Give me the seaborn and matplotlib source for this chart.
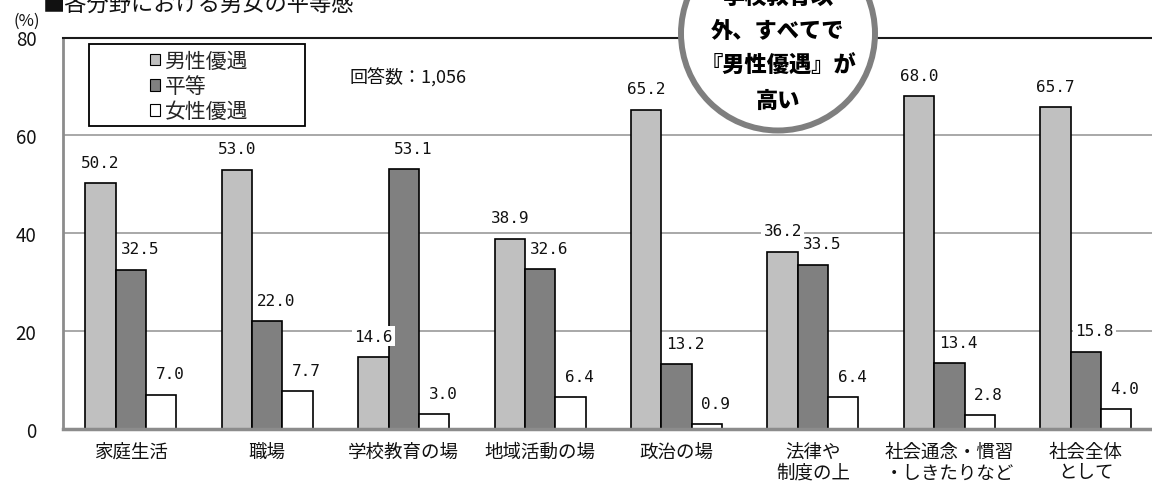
import matplotlib
matplotlib.use("Agg")
import matplotlib.pyplot as plt
from matplotlib.patches import Patch, Rectangle, Ellipse
import seaborn as sns
import pandas as pd

# ---- data -------------------------------------------------------------
categories = ["家庭生活", "職場", "学校教育の場", "地域活動の場", "政治の場",
              "法律や\n制度の上", "社会通念・慣習\n・しきたりなど", "社会全体\nとして"]
series = ["男性優遇", "平等", "女性優遇"]
male_pref = [50.2, 53.0, 14.6, 38.9, 65.2, 36.2, 68.0, 65.7]
equal = [32.5, 22.0, 53.1, 32.6, 13.2, 33.5, 13.4, 15.8]
female_pref = [7.0, 7.7, 3.0, 6.4, 0.9, 6.4, 2.8, 4.0]
y_ticks = [0, 20, 40, 60, 80]
respondents = "回答数：1,056"
title = "■各分野における男女の平等感"
badge_lines = ["学校教育以", "外、すべてで", "『男性優遇』が", "高い"]

colors = ["#c0c0c0", "#808080", "#ffffff"]

# ---- figure setup -----------------------------------------------------
W, H = 1152, 485
sns.set_theme(style="white")
plt.rcParams["font.family"] = ["Noto Sans CJK JP", "DejaVu Sans"]


def fx(px):
    return px / W


def fy(py):
    return 1 - py / H


df = pd.DataFrame({
    "分野": categories * len(series),
    "割合": male_pref + equal + female_pref,
    "回答": [s for s in series for _ in categories],
})

fig = plt.figure(figsize=(W / 100, H / 100), dpi=100)
fig.patch.set_facecolor("white")
ax_left, ax_right, ax_top, ax_bottom = 62.7, 1154.0, 38.5, 429.8
ax = fig.add_axes([fx(ax_left), fy(ax_bottom),
                   (ax_right - ax_left) / W, (ax_bottom - ax_top) / H])

sns.barplot(data=df, x="分野", y="割合", hue="回答", order=categories,
            hue_order=series, palette=colors, width=0.667, saturation=1,
            edgecolor="black", linewidth=1.2, errorbar=None, legend=False,
            ax=ax)

# value labels above each bar
for i, cont in enumerate(ax.containers):
    dx = 0 if i == 0 else 9
    for bar in cont:
        h = bar.get_height()
        ax.annotate(f"{h:.1f}", xy=(bar.get_x() + bar.get_width() / 2, h),
                    xytext=(dx, 21), textcoords="offset pixels",
                    ha="center", va="center", fontsize=11.5,
                    family="DejaVu Sans Mono", color="#111111",
                    bbox=dict(boxstyle="square,pad=0.15", fc="white", ec="none"),
                    zorder=4)

# ---- axes styling -----------------------------------------------------
n = len(categories)
ax.set_xlim(-0.5, n - 0.5)
ax.set_ylim(y_ticks[0], y_ticks[-1])
ax.set_yticks(y_ticks)
ax.set_xlabel("")
ax.set_ylabel("")
ax.yaxis.grid(True, color="#9a9a9a", linewidth=1.2)
ax.set_axisbelow(True)
ax.tick_params(axis="y", length=0, pad=19, labelsize=13.5, labelcolor="#111111")
ax.tick_params(axis="x", which="major", length=0, pad=10, labelsize=13.3,
               labelcolor="#111111")
ax.set_xticks([k + 0.5 for k in range(n - 1)], minor=True)
ax.tick_params(axis="x", which="minor", direction="in", length=4,
               width=1, color="#999999")

ax.spines["right"].set_visible(False)
ax.spines["top"].set_color("#1a1a1a")
ax.spines["top"].set_linewidth(1.5)
ax.spines["left"].set_color("#8c8c8c")
ax.spines["left"].set_linewidth(2)
ax.spines["bottom"].set_color("#8c8c8c")
ax.spines["bottom"].set_linewidth(2.5)

# ---- legend box -------------------------------------------------------
fig.add_artist(Rectangle((fx(89), fy(127)), (305 - 89) / W, (127 - 45) / H,
                         transform=fig.transFigure, facecolor="white",
                         edgecolor="black", linewidth=1.3, zorder=5))
handles = [Patch(facecolor=c, edgecolor="black", linewidth=0.8) for c in colors]
leg = fig.legend(handles, series, loc="center",
                 bbox_to_anchor=(fx(199), fy(87)), frameon=False, fontsize=15,
                 handlelength=0.5, handleheight=0.5, handletextpad=0.2,
                 labelspacing=0.15, borderpad=0)
leg.set_zorder(6)

fig.text(fx(350), fy(78), respondents, ha="left", va="center", fontsize=13,
         color="#111111", zorder=6)

# ---- title and unit ---------------------------------------------------
fig.text(fx(43), fy(4), title, ha="left", va="center", fontsize=16,
         color="#111111")
fig.text(fx(27), fy(21), "(%)", ha="center", va="center", fontsize=12,
         color="#111111")

# ---- callout badge ----------------------------------------------------
cx, cy, r = 778, 34.5, 97
fig.add_artist(Ellipse((fx(cx), fy(cy)), 2 * r / W, 2 * r / H,
                       transform=fig.transFigure, facecolor="white",
                       edgecolor="#7f7f7f", linewidth=4.3, zorder=10))
for line, ypx in zip(badge_lines, [-2.5, 32, 66.5, 101]):
    fig.text(fx(cx), fy(ypx), line, ha="center", va="center", fontsize=16,
             fontweight="black", color="black", zorder=11)

fig.savefig("out.png", dpi=100)
